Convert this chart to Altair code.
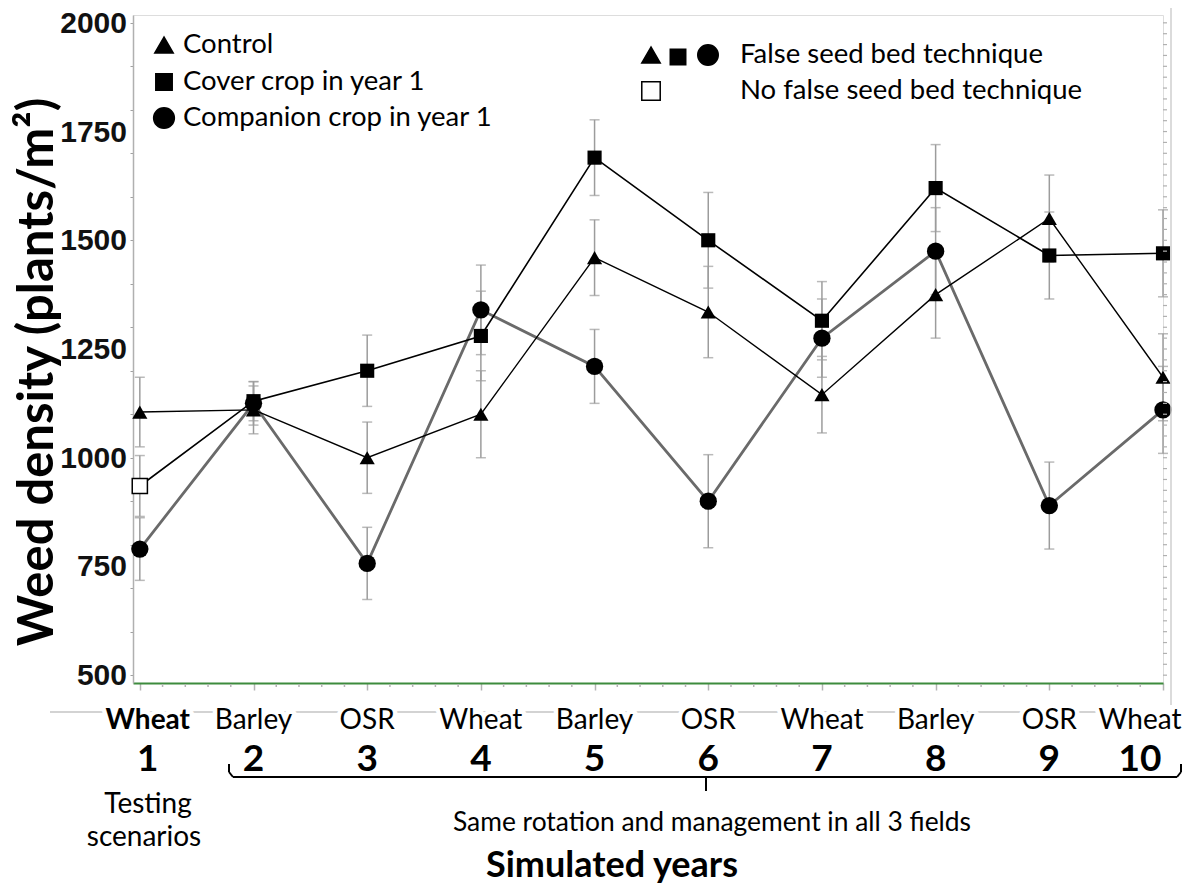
import altair as alt
import pandas as pd
import numpy as np

# ---------------- data ----------------
years = [1, 2, 3, 4, 5, 6, 7, 8, 9, 10]
crops = ["Wheat", "Barley", "OSR", "Wheat", "Barley", "OSR", "Wheat", "Barley", "OSR", "Wheat"]

control = [1105, 1110, 1000, 1100, 1460, 1335, 1145, 1375, 1550, 1185]
control_err = [80, 55, 82, 100, 87, 105, 88, 100, 100, 100]

cover = [935, 1130, 1200, 1280, 1690, 1500, 1315, 1620, 1465, 1470]
cover_err = [70, 45, 82, 103, 87, 110, 90, 100, 100, 100]

companion = [790, 1125, 757, 1340, 1210, 900, 1275, 1475, 890, 1110]
companion_err = [72, 50, 83, 103, 85, 107, 90, 100, 100, 100]

# True = false seed bed technique used (filled marker)
cover_false_seed_bed = [False, True, True, True, True, True, True, True, True, True]

y_ticks = [500, 750, 1000, 1250, 1500, 1750, 2000]
legend_left = ["Control", "Cover crop in year 1", "Companion crop in year 1"]
legend_right = ["False seed bed technique", "No false seed bed technique"]

# ---------------- layout ----------------
W, H = 1030, 668
OX, OY = 133, 15          # absolute position of plot origin on the page
FONT = "Lato"


def ax(x):
    return x - OX


def ay(y):
    return y - OY


def rows(vals, errs, series):
    return pd.DataFrame({
        "year": years, "value": vals, "err": errs, "series": series,
        "lo": [v - e for v, e in zip(vals, errs)],
        "hi": [v + e for v, e in zip(vals, errs)],
    })


df_ctrl = rows(control, control_err, "Control")
df_cov = rows(cover, cover_err, "Cover")
df_cov["fsb"] = cover_false_seed_bed
df_comp = rows(companion, companion_err, "Companion")
df_all = pd.concat([df_ctrl, df_cov, df_comp], ignore_index=True)

crop_df = pd.DataFrame({"year": years, "crop": crops, "num": [str(y) for y in years]})

xscale = alt.Scale(domain=[0.94, 10.0], nice=False, zero=False)
yscale = alt.Scale(domain=[482, 2018], nice=False, zero=False)

minor_y = [v for v in range(500, 2001, 25)]

X = alt.X("year:Q", scale=xscale,
          axis=alt.Axis(values=years, tickSize=7, tickColor="#b4b4b4", tickWidth=1.5,
                        domainColor="#3d8b3d", domainWidth=2, labels=False,
                        title=None, grid=False))
Y = alt.Y("value:Q", scale=yscale,
          axis=alt.Axis(values=minor_y, tickSize=3, tickColor="#a0a0a0",
                        domainColor="#b0b0b0", domainWidth=1.5, labels=False,
                        title=None, grid=False))

ERR = "#9c9c9c"
errbars = alt.Chart(df_all).mark_rule(color=ERR, strokeWidth=1.5).encode(
    x=alt.X("year:Q", scale=xscale), y=alt.Y("lo:Q", scale=yscale), y2="hi:Q")
caps_lo = alt.Chart(df_all).mark_tick(color=ERR, size=10, thickness=1.5,
                                      orient="horizontal").encode(
    x=alt.X("year:Q", scale=xscale), y=alt.Y("lo:Q", scale=yscale))
caps_hi = alt.Chart(df_all).mark_tick(color=ERR, size=10, thickness=1.5,
                                      orient="horizontal").encode(
    x=alt.X("year:Q", scale=xscale), y=alt.Y("hi:Q", scale=yscale))

line_comp = alt.Chart(df_comp).mark_line(color="#6a6a6a", strokeWidth=2.8).encode(x=X, y=Y)
line_ctrl = alt.Chart(df_ctrl).mark_line(color="#000", strokeWidth=1.4).encode(x=X, y=Y)
line_cov = alt.Chart(df_cov).mark_line(color="#000", strokeWidth=1.6).encode(x=X, y=Y)

pts_ctrl = alt.Chart(df_ctrl).mark_point(shape="triangle-up", filled=True, size=230,
                                         color="#000", opacity=1).encode(x=X, y=Y)
pts_cov = alt.Chart(df_cov).transform_filter("datum.fsb").mark_point(
    shape="square", filled=True, size=200, color="#000", opacity=1).encode(x=X, y=Y)
pts_cov_open = alt.Chart(df_cov).transform_filter("!datum.fsb").mark_point(
    shape="square", filled=True, size=230, fill="white", stroke="#000",
    strokeWidth=1.5, opacity=1).encode(x=X, y=Y)
pts_comp = alt.Chart(df_comp).mark_point(shape="circle", filled=True, size=300,
                                         color="#000", opacity=1).encode(x=X, y=Y)

# y tick labels
ytick_df = pd.DataFrame({"value": y_ticks, "lbl": [str(v) for v in y_ticks]})
ytick_labels = alt.Chart(ytick_df).mark_text(
    font="Liberation Sans", fontWeight="bold", fontSize=30, align="right",
    baseline="middle", color="#111", dy=1).encode(
    y=alt.Y("value:Q", scale=yscale), x=alt.value(-6), text="lbl:N")

# minor x ticks and right side ticks
minor_x = [round(v, 2) for v in np.arange(1.0, 10.01, 0.2) if abs(v - round(v)) > 1e-6]
minor_x_df = pd.DataFrame({"year": minor_x})
minor_x_ticks = alt.Chart(minor_x_df).mark_rule(color="#b4b4b4", strokeWidth=1.5).encode(
    x=alt.X("year:Q", scale=xscale), y=alt.value(H + 1), y2=alt.value(H + 4))
right_df = pd.DataFrame({"value": minor_y})
right_ticks = alt.Chart(right_df).mark_rule(color="#b0b0b0", strokeWidth=1.2).encode(
    y=alt.Y("value:Q", scale=yscale), x=alt.value(W), x2=alt.value(W + 4))

one = pd.DataFrame({"k": [0]})


def txt(s, x, y, size, weight="normal", align="center", angle=0, font=FONT):
    kw = dict(text=s, fontSize=size, fontWeight=weight, align=align,
              baseline="middle", font=font, color="#000")
    if angle:
        kw["angle"] = angle
    return alt.Chart(one).mark_text(**kw).encode(x=alt.value(ax(x)), y=alt.value(ay(y)))


def seg(x1, y1, x2, y2, color="#000", w=2):
    return alt.Chart(one).mark_rule(color=color, strokeWidth=w).encode(
        x=alt.value(ax(x1)), y=alt.value(ay(y1)), x2=alt.value(ax(x2)), y2=alt.value(ay(y2)))


def sym(shape, x, y, size, fill="#000"):
    return alt.Chart(one).mark_point(shape=shape, filled=True, size=size, fill=fill,
                                     stroke="#000", strokeWidth=1.5, opacity=1).encode(
        x=alt.value(ax(x)), y=alt.value(ay(y)))


LEG = 27.5
leg = [
    sym("triangle-up", 164, 45, 340), txt(legend_left[0], 183, 45, LEG, align="left"),
    sym("square", 164, 82, 270), txt(legend_left[1], 183, 82, LEG, align="left"),
    sym("circle", 164, 118, 430), txt(legend_left[2], 183, 118, LEG, align="left"),
    sym("triangle-up", 651, 55, 340), sym("square", 678, 57, 240), sym("circle", 708, 55, 420),
    txt(legend_right[0], 740, 55, LEG, align="left"),
    sym("square", 651, 91, 340, fill="white"),
    txt(legend_right[1], 740, 91, LEG, align="left"),
]

# gray line under the crop labels, masked by white halo text
LBL_Y = 721
gray_line = seg(50, 712, 1112, 712, color="#c4c4c4", w=1.5)


def crop_text(filter_expr, weight, dx, halo):
    kw = dict(fontSize=28, font=FONT, fontWeight=weight, align="center",
              baseline="middle", dx=dx)
    if halo:
        kw.update(fill="white", stroke="white", strokeWidth=9, strokeJoin="round")
    else:
        kw.update(color="#000")
    return alt.Chart(crop_df).transform_filter(filter_expr).mark_text(**kw).encode(
        x=alt.X("year:Q", scale=xscale), y=alt.value(ay(LBL_Y)), text="crop:N")


crop_layers = []
for halo in (True, False):
    crop_layers += [
        crop_text("datum.year == 1", "bold", 8, halo),
        crop_text("datum.year > 1 && datum.year < 10", "normal", 0, halo),
        crop_text("datum.year == 10", "normal", -23, halo),
    ]


def num_text(filter_expr, dx):
    return alt.Chart(crop_df).transform_filter(filter_expr).mark_text(
        fontSize=37, font=FONT, fontWeight="bold", align="center", baseline="middle",
        dx=dx, color="#000").encode(
        x=alt.X("year:Q", scale=xscale), y=alt.value(ay(760)), text="num:N")


nums = [num_text("datum.year == 1", 8),
        num_text("datum.year > 1 && datum.year < 10", 0),
        num_text("datum.year == 10", -23)]

# bracket
bracket = [
    seg(233, 777, 1177, 777), seg(229, 764, 229, 772), seg(229, 772, 233, 777),
    seg(1181, 764, 1181, 772), seg(1181, 772, 1177, 777), seg(706, 777, 706, 791),
]

annot = [
    txt("Testing", 148, 805, 28), txt("scenarios", 144, 838, 28),
    txt("Same rotation and management in all 3 fields", 712, 823, 26.4),
    txt("Simulated years", 612, 866, 36, weight="bold"),
    txt("Weed density (plants/m²)", 38, 372, 49, weight="bold", angle=270),
    seg(1171, 8, 1171, 705, color="#cfcfcf", w=1.5),
]

chart = alt.layer(
    errbars, caps_lo, caps_hi,
    line_comp, line_ctrl, line_cov,
    pts_comp, pts_ctrl, pts_cov, pts_cov_open,
    minor_x_ticks, right_ticks, ytick_labels,
    gray_line, *crop_layers, *nums, *bracket, *annot, *leg,
).properties(
    width=W, height=H,
    autosize=alt.AutoSizeParams(type="none"),
    padding={"left": OX - 8, "top": OY - 8, "right": 20, "bottom": 205},
).configure_view(stroke="#c8c8c8", strokeWidth=2).configure(background="white")

chart.save("out.html", embed_options={"renderer": "svg", "actions": False})
